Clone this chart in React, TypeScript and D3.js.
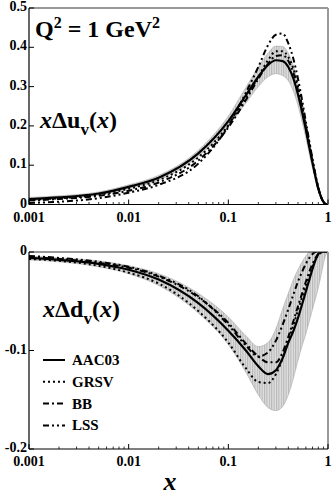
import React from "react";
import * as d3 from "d3";

// x grid shared by all curves
const xs = [0.001, 0.002, 0.005, 0.01, 0.02, 0.05, 0.1, 0.15, 0.2, 0.25, 0.3, 0.35, 0.4, 0.45, 0.5, 0.55, 0.6, 0.65, 0.7, 0.75, 0.8, 0.85, 0.9, 0.95, 1];

// x Delta u_v
const uAAC = [0.014, 0.018, 0.028, 0.045, 0.068, 0.13, 0.212, 0.278, 0.325, 0.355, 0.367, 0.365, 0.35, 0.32, 0.28, 0.235, 0.19, 0.145, 0.105, 0.07, 0.04, 0.02, 0.007, 0.001, 0];
const uHi = [0.018, 0.022, 0.032, 0.05, 0.074, 0.138, 0.225, 0.298, 0.35, 0.385, 0.403, 0.402, 0.385, 0.352, 0.308, 0.26, 0.21, 0.162, 0.118, 0.08, 0.047, 0.024, 0.009, 0.002, 0];
const uLo = [0.01, 0.014, 0.024, 0.04, 0.062, 0.122, 0.199, 0.258, 0.3, 0.325, 0.333, 0.328, 0.315, 0.288, 0.252, 0.21, 0.17, 0.128, 0.092, 0.06, 0.033, 0.016, 0.005, 0, 0];
const uGRSV = [0.012, 0.016, 0.025, 0.04, 0.062, 0.12, 0.202, 0.272, 0.325, 0.367, 0.39, 0.39, 0.375, 0.345, 0.3, 0.25, 0.2, 0.155, 0.11, 0.072, 0.042, 0.02, 0.007, 0.001, 0];
const uBB = [0.01, 0.014, 0.022, 0.035, 0.056, 0.112, 0.196, 0.266, 0.32, 0.358, 0.378, 0.38, 0.365, 0.335, 0.29, 0.245, 0.195, 0.15, 0.108, 0.07, 0.04, 0.019, 0.006, 0.001, 0];
const uLSS = [0.004, 0.007, 0.016, 0.03, 0.05, 0.104, 0.2, 0.285, 0.35, 0.405, 0.432, 0.435, 0.41, 0.37, 0.32, 0.265, 0.21, 0.16, 0.115, 0.075, 0.043, 0.02, 0.007, 0.001, 0];

// x Delta d_v
const dAAC = [-0.006, -0.008, -0.012, -0.018, -0.028, -0.052, -0.08, -0.1, -0.116, -0.124, -0.12, -0.108, -0.092, -0.08, -0.067, -0.053, -0.04, -0.028, -0.017, -0.008, -0.002, 0, 0, 0, 0];
const dHi = [-0.004, -0.006, -0.009, -0.014, -0.022, -0.042, -0.066, -0.085, -0.096, -0.092, -0.078, -0.058, -0.042, -0.028, -0.018, -0.01, -0.004, 0, 0, 0, 0, 0, 0, 0, 0];
const dLo = [-0.008, -0.01, -0.015, -0.022, -0.034, -0.062, -0.094, -0.122, -0.145, -0.158, -0.161, -0.157, -0.145, -0.128, -0.11, -0.095, -0.083, -0.07, -0.058, -0.047, -0.036, -0.024, -0.012, -0.003, 0];
const dGRSV = [-0.007, -0.009, -0.014, -0.021, -0.032, -0.06, -0.092, -0.118, -0.132, -0.133, -0.124, -0.108, -0.09, -0.074, -0.059, -0.046, -0.034, -0.024, -0.015, -0.008, -0.003, -0.001, 0, 0, 0];
const dBB = [-0.005, -0.007, -0.011, -0.016, -0.025, -0.046, -0.072, -0.093, -0.106, -0.112, -0.112, -0.102, -0.086, -0.07, -0.055, -0.042, -0.03, -0.02, -0.012, -0.006, -0.002, 0, 0, 0, 0];
const dLSS = [-0.004, -0.006, -0.01, -0.015, -0.024, -0.045, -0.074, -0.095, -0.106, -0.102, -0.09, -0.074, -0.058, -0.043, -0.03, -0.02, -0.012, -0.006, -0.002, 0, 0, 0, 0, 0, 0];

const legendNames = ["AAC03", "GRSV", "BB", "LSS"];
const dashes = [null, "2,3", "6,3,2,3", "6,3,2,3,2,3"];
const xTicks = [0.001, 0.01, 0.1, 1];
const xTickLabels = ["0.001", "0.01", "0.1", "1"];
const uTicks = [0, 0.1, 0.2, 0.3, 0.4, 0.5];
const uTickLabels = ["0", "0.1", "0.2", "0.3", "0.4", "0.5"];
const dTicks = [0, -0.1, -0.2];
const dTickLabels = ["0", "-0.1", "-0.2"];

const W = 332;
const H = 495;
const left = 29;
const right = 328;
const serif = { fontFamily: "'Liberation Serif', 'Times New Roman', 'DejaVu Serif', serif", fontWeight: 700 } as const;

const xScale = d3.scaleLog().domain([0.001, 1]).range([left, right]);
const minorX: number[] = [];
for (let e = -3; e < 0; e++) for (let k = 2; k <= 9; k++) minorX.push(k * Math.pow(10, e));

type PanelProps = {
  yScale: d3.ScaleLinear<number, number>;
  top: number;
  bottom: number;
  series: number[][];
  hi: number[];
  lo: number[];
  ticks: number[];
  tickLabels: string[];
  id: string;
};

const Panel = ({ yScale, top, bottom, series, hi, lo, ticks, tickLabels, id }: PanelProps) => {
  const line = d3
    .line<number>()
    .x((_, i) => xScale(xs[i]))
    .y((d) => yScale(d))
    .curve(d3.curveMonotoneX);
  const area = d3
    .area<number>()
    .x((_, i) => xScale(xs[i]))
    .y0((_, i) => yScale(lo[i]))
    .y1((d) => yScale(d))
    .curve(d3.curveMonotoneX);
  return (
    <g>
      <defs>
        <clipPath id={"clip" + id}>
          <rect x={left} y={top} width={right - left} height={bottom - top} />
        </clipPath>
        <pattern id={"hatch" + id} width={2.4} height={4} patternUnits="userSpaceOnUse">
          <rect width={2.4} height={4} fill="#e0e0e0" />
          <line x1={0.6} y1={0} x2={0.6} y2={4} stroke="#999" strokeWidth={0.7} />
        </pattern>
      </defs>
      <g clipPath={`url(#clip${id})`}>
        <path d={area(hi) || ""} fill={`url(#hatch${id})`} stroke="#aaa" strokeWidth={0.6} />
        {series.map((s, i) => (
          <path
            key={i}
            d={line(s) || ""}
            fill="none"
            stroke="#000"
            strokeWidth={i === 0 ? 2.2 : 2}
            strokeDasharray={dashes[i] || undefined}
          />
        ))}
      </g>
      {/* frame */}
      <line x1={left} y1={top} x2={right} y2={top} stroke="#333" strokeWidth={1.2} />
      <line x1={right} y1={top} x2={right} y2={bottom} stroke="#999" strokeWidth={2} />
      <line x1={left} y1={top} x2={left} y2={bottom} stroke="#000" strokeWidth={1.2} />
      <line x1={left} y1={bottom} x2={right} y2={bottom} stroke="#000" strokeWidth={1.2} />
      {/* x ticks */}
      {xTicks.map((t) => (
        <line key={"M" + t} x1={xScale(t)} x2={xScale(t)} y1={bottom} y2={bottom - 5} stroke="#000" />
      ))}
      {minorX.map((t) => (
        <line key={"m" + t} x1={xScale(t)} x2={xScale(t)} y1={bottom} y2={bottom - 2.5} stroke="#000" strokeWidth={0.8} />
      ))}
      {xTicks.map((t, i) => (
        <text key={"l" + t} x={xScale(t)} y={bottom + 17} textAnchor="middle" fontSize={14} style={serif}>
          {xTickLabels[i]}
        </text>
      ))}
      {/* y ticks */}
      {ticks.map((t, i) => (
        <g key={"y" + t}>
          <line x1={left} x2={left + 5} y1={yScale(t)} y2={yScale(t)} stroke="#000" />
          <text x={left - 2} y={yScale(t) + 3} textAnchor="end" fontSize={14} style={serif}>
            {tickLabels[i]}
          </text>
        </g>
      ))}
    </g>
  );
};

export default function App() {
  const yU = d3.scaleLinear().domain([0, 0.5]).range([204.5, 8]);
  const yD = d3.scaleLinear().domain([-0.2, 0]).range([449, 252]);
  return (
    <svg width={W} height={H} style={{ position: "absolute", left: 0, top: 0, background: "#fff" }}>
      <rect width={W} height={H} fill="#fff" />
      <Panel
        id="u"
        yScale={yU}
        top={8}
        bottom={204.5}
        series={[uAAC, uGRSV, uBB, uLSS]}
        hi={uHi}
        lo={uLo}
        ticks={uTicks}
        tickLabels={uTickLabels}
      />
      <Panel
        id="d"
        yScale={yD}
        top={252}
        bottom={449}
        series={[dAAC, dGRSV, dBB, dLSS]}
        hi={dHi}
        lo={dLo}
        ticks={dTicks}
        tickLabels={dTickLabels}
      />
      {/* Q^2 label */}
      <text x={35} y={37} fontSize={24} style={serif}>
        Q<tspan dy={-9} fontSize={16}>2</tspan>
        <tspan dy={9}> = 1 GeV</tspan>
        <tspan dy={-9} fontSize={16}>2</tspan>
      </text>
      {/* panel labels */}
      <text x={40} y={128} fontSize={24} style={serif}>
        <tspan fontStyle="italic">x</tspan>Δu<tspan dy={7} fontSize={17}>v</tspan>
        <tspan dy={-7}>(</tspan>
        <tspan fontStyle="italic">x</tspan>)
      </text>
      <text x={43} y={317} fontSize={24} style={serif}>
        <tspan fontStyle="italic">x</tspan>Δd<tspan dy={7} fontSize={17}>v</tspan>
        <tspan dy={-7}>(</tspan>
        <tspan fontStyle="italic">x</tspan>)
      </text>
      {/* legend */}
      {legendNames.map((n, i) => {
        const y = 360 + i * 21.8;
        return (
          <g key={n}>
            <line x1={43} x2={65} y1={y} y2={y} stroke="#000" strokeWidth={2} strokeDasharray={dashes[i] || undefined} />
            <text x={72} y={y + 5} fontSize={15} style={serif}>
              {n}
            </text>
          </g>
        );
      })}
      {/* x axis title */}
      <text x={170} y={490} textAnchor="middle" fontSize={26} fontStyle="italic" style={serif}>
        x
      </text>
    </svg>
  );
}
